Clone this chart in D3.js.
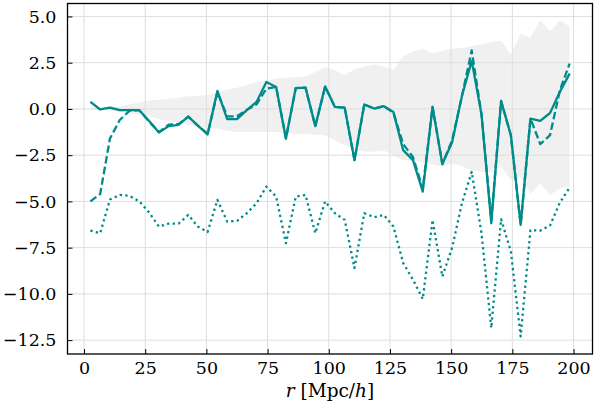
<!DOCTYPE html>
<html><head><meta charset="utf-8">
<script src="https://cdn.jsdelivr.net/npm/d3@7"></script>
<style>body{margin:0;background:#fff}svg{display:block}</style>
</head><body><svg id="c" width="597" height="406"></svg>
<script>
const r = [2.6, 6.6, 10.6, 14.6, 18.6, 22.6, 26.6, 30.6, 34.6, 38.6, 42.6, 46.5, 50.5, 54.5, 58.5, 62.5, 66.5, 70.5, 74.5, 78.5, 82.5, 86.5, 90.5, 94.5, 98.5, 102.5, 106.5, 110.5, 114.5, 118.5, 122.5, 126.4, 130.4, 134.4, 138.4, 142.4, 146.4, 150.4, 154.4, 158.4, 162.4, 166.4, 170.4, 174.4, 178.4, 182.4, 186.4, 190.4, 194.4, 198.4];
const solid = [0.38, -0.03, 0.07, -0.07, -0.07, -0.07, -0.65, -1.27, -0.93, -0.86, -0.41, -0.9, -1.38, 0.97, -0.55, -0.55, -0.07, 0.38, 1.46, 1.19, -1.6, 1.13, 1.15, -0.93, 1.22, 0.11, 0.07, -2.77, 0.24, 0.02, 0.15, -0.16, -2.23, -2.77, -4.47, 0.11, -2.98, -1.8, 0.7, 2.6, -0.3, -6.18, 0.43, -1.42, -6.27, -0.52, -0.65, -0.22, 0.92, 1.91];
const dashed = [-5.0, -4.6, -1.6, -0.6, -0.1, -0.07, -0.68, -1.25, -0.85, -0.82, -0.42, -0.9, -1.35, 0.9, -0.4, -0.4, -0.05, 0.25, 1.1, 1.19, -1.6, 1.13, 1.15, -0.93, 1.2, 0.11, 0.07, -2.77, 0.24, 0.02, 0.15, -0.2, -1.9, -2.6, -4.3, 0.11, -2.98, -1.69, 0.7, 3.16, -0.3, -6.0, 0.43, -1.42, -6.27, -0.52, -1.9, -1.42, 1.0, 2.45];
const dotted = [-6.58, -6.72, -4.9, -4.65, -4.7, -5.0, -5.6, -6.36, -6.2, -6.2, -5.73, -6.36, -6.65, -4.92, -6.09, -6.05, -5.64, -5.1, -4.2, -4.74, -7.26, -4.74, -4.65, -6.72, -5.0, -5.64, -6.0, -8.6, -5.64, -5.85, -5.73, -6.36, -8.33, -9.23, -10.28, -6.0, -9.06, -7.5, -5.1, -3.4, -6.72, -11.84, -5.96, -7.7, -12.3, -6.55, -6.58, -6.3, -5.07, -4.25];
const bandHi = [0.05, 0.05, 0.08, 0.12, 0.25, 0.35, 0.45, 0.5, 0.55, 0.6, 0.68, 0.7, 0.75, 0.9, 1.05, 1.15, 1.3, 1.45, 1.55, 1.65, 1.7, 1.7, 1.75, 2.0, 2.26, 2.1, 1.82, 2.15, 2.3, 2.4, 2.3, 2.1, 2.85, 3.1, 3.26, 3.0, 3.15, 3.26, 3.3, 3.4, 3.5, 3.6, 3.7, 2.95, 4.06, 3.85, 4.78, 4.2, 4.78, 4.45];
const bandLo = [-0.05, -0.05, -0.08, -0.15, -0.25, -0.3, -0.4, -0.55, -0.65, -0.75, -0.85, -0.95, -1.05, -1.05, -1.2, -1.25, -1.25, -1.25, -1.25, -1.25, -1.3, -1.35, -1.35, -1.4, -1.42, -1.7, -1.96, -2.2, -2.32, -2.3, -2.25, -2.5, -2.77, -2.8, -2.9, -3.0, -3.1, -2.95, -3.1, -3.3, -3.4, -3.4, -3.13, -3.84, -3.67, -4.6, -4.02, -4.65, -4.3, -4.2];
const xTicks = [0, 25, 50, 75, 100, 125, 150, 175, 200];
const yTicks = [5.0, 2.5, 0.0, -2.5, -5.0, -7.5, -10.0, -12.5];

const svg = d3.select('#c');
const L = 67.5, R = 592.5, T = 3.5, B = 354;
const x = d3.scaleLinear().domain([-6.75, 207.75]).range([L, R]);
const y = d3.scaleLinear().domain([-13.25, 5.7]).range([B, T]);
const color = '#008b8b';
const font = '"DejaVu Serif", serif';

const idx = d3.range(r.length);
// band
svg.append('path')
  .attr('d', d3.area().x(i => x(r[i])).y0(i => y(bandLo[i])).y1(i => y(bandHi[i]))(idx))
  .attr('fill', '#f0f0f0');
// grid
const grid = svg.append('g').attr('stroke', '#dedede').attr('stroke-width', 1);
xTicks.forEach(t => grid.append('line').attr('x1', x(t)).attr('x2', x(t)).attr('y1', T).attr('y2', B));
yTicks.forEach(t => grid.append('line').attr('y1', y(t)).attr('y2', y(t)).attr('x1', L).attr('x2', R));

function line(vals, dash) {
  const p = svg.append('path')
    .attr('d', d3.line().x(i => x(r[i])).y(i => y(vals[i]))(idx))
    .attr('fill', 'none').attr('stroke', color).attr('stroke-width', 2.3)
    .attr('stroke-linejoin', 'round');
  if (dash) p.attr('stroke-dasharray', dash);
  return p;
}
line(dotted, '2.3,3.3');
line(dashed, '7.5,3.3');
line(solid, null);

// frame
svg.append('rect').attr('x', L).attr('y', T).attr('width', R - L).attr('height', B - T)
  .attr('fill', 'none').attr('stroke', '#000').attr('stroke-width', 1.3);

// axes with inward ticks
const xAxis = svg.append('g').attr('transform', `translate(0,${B})`)
  .call(d3.axisBottom(x).tickValues(xTicks).tickSizeInner(-5).tickSizeOuter(0).tickPadding(8).tickFormat(d3.format('d')));
const yAxis = svg.append('g').attr('transform', `translate(${L},0)`)
  .call(d3.axisLeft(y).tickValues(yTicks).tickSizeInner(-5).tickSizeOuter(0).tickPadding(11)
    .tickFormat(d => d3.format('.1f')(d).replace('-', '\u2212')));
[xAxis, yAxis].forEach(a => {
  a.select('.domain').remove();
  a.selectAll('line').attr('stroke', '#000').attr('stroke-width', 1);
  a.selectAll('text').attr('font-family', font).attr('font-size', 17.5).attr('fill', '#000');
});

// x label
const lab = svg.append('text').attr('x', (L + R) / 2).attr('y', 397)
  .attr('text-anchor', 'middle').attr('font-family', font).attr('font-size', 18.5).attr('fill', '#000');
lab.append('tspan').attr('font-style', 'italic').text('r');
lab.append('tspan').text(' [Mpc/');
lab.append('tspan').attr('font-style', 'italic').text('h');
lab.append('tspan').text(']');
</script></body></html>
